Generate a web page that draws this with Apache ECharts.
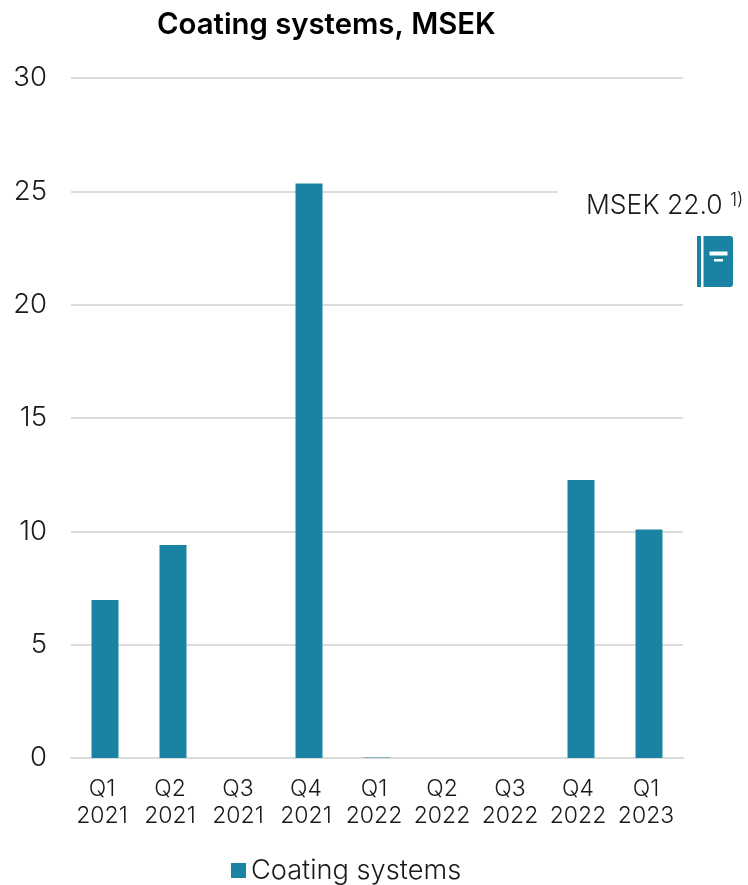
<!DOCTYPE html>
<html><head><meta charset="utf-8">
<style>html,body{margin:0;padding:0;background:#fff}#c{width:748px;height:885px}</style>
<script src="https://cdn.jsdelivr.net/npm/echarts@6/dist/echarts.min.js"></script></head>
<body><div id="c"></div>
<script>
const categories = ['Q1\n2021','Q2\n2021','Q3\n2021','Q4\n2021','Q1\n2022','Q2\n2022','Q3\n2022','Q4\n2022','Q1\n2023'];
const seriesName = 'Coating systems';
const values = [6.97, 9.4, 0, 25.35, 0.02, 0, 0, 12.27, 10.08];
const yTicks = {min:0, max:30, interval:5};
const color = '#1a83a1';
const font = 'Inter';
const chart = echarts.init(document.getElementById('c'), null, {renderer:'canvas'});
chart.setOption({
  animation:false,
  title:{text:'Coating systems, MSEK', left:157, top:11, padding:0,
    textStyle:{fontFamily:font,fontWeight:600,fontSize:29.3,color:'#000'}},
  grid:{left:71, right:65, top:78, bottom:127},
  legend:{data:[seriesName], left:231, top:857, padding:0, itemWidth:15, itemHeight:15, itemGap:8,
    textStyle:{fontFamily:font,fontWeight:300,fontSize:27.2,color:'#1a1a1a',padding:0}, icon:'rect'},
  xAxis:{type:'category', data:categories, axisTick:{show:false},
    axisLine:{lineStyle:{color:'#dcdcdc',width:2}},
    axisLabel:{fontFamily:font,fontWeight:300,fontSize:23,lineHeight:27,color:'#1a1a1a',margin:18,interval:0,padding:[0,6,0,0]}},
  yAxis:{type:'value', min:yTicks.min, max:yTicks.max, interval:yTicks.interval,
    axisLine:{show:false}, axisTick:{show:false},
    splitLine:{lineStyle:{color:'#dcdcdc',width:2}},
    axisLabel:{fontFamily:font,fontWeight:300,fontSize:27.5,color:'#1a1a1a',margin:24,padding:[6,0,0,0]}},
  series:[{name:seriesName,type:'bar',data:values,barWidth:27,itemStyle:{color:color}}],
  graphic:[
    {type:'rect',z:50,shape:{x:558,y:185,width:130,height:14},style:{fill:'#fff'}},
    {type:'text',z:60,style:{x:586,y:193,text:'MSEK 22.0',fontFamily:font,fontWeight:300,fontSize:26.5,fill:'#1a1a1a'}},
    {type:'text',z:60,style:{x:730,y:192,text:'1)',fontFamily:font,fontWeight:300,fontSize:18,fill:'#1a1a1a'}},
    {type:'rect',z:60,shape:{x:697,y:236,width:4,height:51},style:{fill:color}},
    {type:'rect',z:60,shape:{x:703.5,y:236,width:29.5,height:51,r:[0,3,3,0]},style:{fill:color}},
    {type:'rect',z:61,shape:{x:709.5,y:251.5,width:18,height:4},style:{fill:'#fff'}},
    {type:'rect',z:61,shape:{x:714,y:259,width:9,height:2.5},style:{fill:'#fff'}}
  ]
});
</script></body></html>
